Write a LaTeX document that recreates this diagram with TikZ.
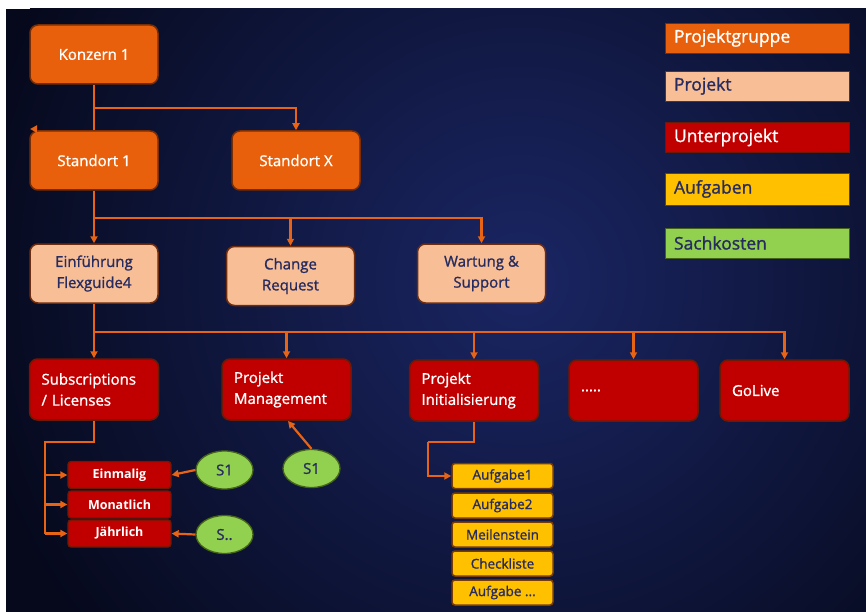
\documentclass[tikz,border=0pt]{standalone}
\usepackage{fontspec}
\setmainfont{Open Sans}
\newfontfamily\semib{Open Sans}[FakeBold=1.2]
\usetikzlibrary{arrows.meta,shapes.geometric}
\definecolor{bgdark}{RGB}{6,9,28}
\definecolor{bgmid}{RGB}{26,38,100}
\definecolor{grpfill}{RGB}{233,96,12}
\definecolor{grpline}{RGB}{120,45,5}
\definecolor{prjfill}{RGB}{248,190,150}
\definecolor{prjline}{RGB}{110,45,15}
\definecolor{subfill}{RGB}{192,0,0}
\definecolor{subline}{RGB}{110,25,5}
\definecolor{taskfill}{RGB}{255,192,0}
\definecolor{taskline}{RGB}{120,60,5}
\definecolor{costfill}{RGB}{146,208,80}
\definecolor{costline}{RGB}{70,100,25}
\definecolor{navytext}{RGB}{38,44,96}
\definecolor{conncol}{RGB}{232,100,20}
\tikzset{
  box/.style={rounded corners=8pt, line width=1.5pt, minimum width=128pt, minimum height=59pt, inner sep=0pt, font=\semib\fontsize{15}{21}\selectfont},
  grp/.style={box, fill=grpfill, draw=grpline, text=white},
  prj/.style={box, fill=prjfill, draw=prjline, text=navytext, align=center},
  sub/.style={box, fill=subfill, draw=subline, text=white, minimum width=129pt, minimum height=61pt, text width=105pt, align=left},
  small/.style={rounded corners=3pt, line width=1.3pt, fill=subfill, draw=subline, text=white, minimum width=103pt, minimum height=27pt, inner sep=0pt, font=\fontsize{12.5}{14}\selectfont\bfseries},
  task/.style={rounded corners=3pt, line width=1.5pt, fill=taskfill, draw=taskline, text=navytext, minimum width=101pt, minimum height=25pt, inner sep=0pt, font=\semib\fontsize{13.5}{15}\selectfont},
  cost/.style={ellipse, line width=1.3pt, fill=costfill, draw=costline, text=navytext, minimum width=57pt, minimum height=38pt, inner sep=0pt, font=\semib\fontsize{15}{17}\selectfont},
  legend/.style={line width=0.6pt, minimum width=184pt, minimum height=30pt, inner sep=0pt, text width=166pt, align=left, font=\semib\fontsize{17.5}{20}\selectfont},
  conn/.style={draw=conncol, line width=2.2pt},
  arr/.style={conn, -{Triangle[length=7pt,width=7pt]}},
}
\begin{document}
\begin{tikzpicture}[x=1pt,y=-1pt]
\useasboundingbox (0,0) rectangle (866,612);
\fill[white] (0,0) rectangle (866,612);
\fill[bgdark] (6,9) rectangle (866,612);
\begin{scope}
\clip (6,9) rectangle (866,612);
\shade[inner color=bgmid, outer color=bgdark] (520,280) circle (560);
\end{scope}

% legend
\node[legend, fill=grpfill, draw=grpline, text=white] (lg1) at (757,38) {Projektgruppe};
\node[legend, fill=prjfill, draw=prjline, text=navytext] (lg2) at (757,86) {Projekt};
\node[legend, fill=subfill, draw=subline, text=white] (lg3) at (757,137.5) {Unterprojekt};
\node[legend, fill=taskfill, draw=taskline, text=navytext, minimum height=32pt] (lg4) at (757,189) {Aufgaben};
\node[legend, fill=costfill, draw=costline, text=navytext] (lg5) at (757,243) {Sachkosten};

% level 1
\node[grp] (k) at (94,54.5) {Konzern 1};
\node[grp] (st1) at (94,160.5) {Standort 1};
\node[grp] (stx) at (296,160.5) {Standort X};

% level 2
\node[prj] (ein) at (94,273.5) {Einführung\\Flexguide4};
\node[prj] (cr) at (290.5,276) {Change\\Request};
\node[prj] (ws) at (481.5,273.5) {Wartung \&\\Support};

% level 3
\node[sub] (subs) at (94,389.5) {Subscriptions\\/ Licenses};
\node[sub] (pm) at (286.5,389.5) {Projekt\\Management};
\node[sub] (pi) at (474,390.5) {Projekt\\Initialisierung};
\node[sub] (dots) at (633.5,390.5) {.....};
\node[sub] (go) at (784.5,390.5) {GoLive};

% subscriptions children
\node[small] (e1) at (119.5,475) {Einmalig};
\node[small] (e2) at (119.5,504.5) {Monatlich};
\node[small] (e3) at (119.5,533.5) {Jährlich};
\node[cost] (s1a) at (224.5,470) {S1};
\node[cost] (s2) at (224.5,534.5) {S..};
\node[cost] (s1b) at (311.5,468.5) {S1};

% tasks
\node[task] (t1) at (502.5,476) {Aufgabe1};
\node[task] (t2) at (502.5,505.5) {Aufgabe2};
\node[task] (t3) at (502.5,534.5) {Meilenstein};
\node[task] (t4) at (502.5,563.5) {Checkliste};
\node[task] (t5) at (502.5,592.5) {Aufgabe ...};

% connectors level 1
\coordinate (j1) at (94,108);
\draw[conn] (k.south) -- (st1.north);
\draw[arr] (j1) -| (stx.north);
\coordinate (lonetip) at (30,129);
\draw[arr] (35,129) -- (lonetip);

% connectors level 2
\coordinate (j2) at (94,218);
\draw[conn] (st1.south) -- (j2);
\draw[arr] (j2) -- (ein.north);
\draw[arr] (j2) -| (cr.north);
\draw[arr] (j2) -| (ws.north);

% connectors level 3
\coordinate (j3) at (94,332);
\draw[conn] (ein.south) -- (j3);
\draw[arr] (j3) -- (subs.north);
\draw[arr] (j3) -| (pm.north);
\draw[arr] (j3) -| (pi.north);
\draw[arr] (j3) -| (dots.north);
\draw[arr] (j3) -| (go.north);

% subscriptions children connectors
\coordinate (j4) at (94,442);
\coordinate (j5) at (45,442);
\draw[conn] (subs.south) -- (j4) -- (j5) -- (45,533.5);
\draw[arr] (45,475) -- (e1.west);
\draw[arr] (45,504.5) -- (e2.west);
\draw[arr] (45,533.5) -- (e3.west);
\draw[arr] (s1a.west) -- (e1.east);
\draw[arr] (s2.west) -- (e3.east);
\draw[arr] (s1b.north) -- (288,421);

% task connector
\coordinate (j6) at (474,442);
\coordinate (j7) at (428,442);
\draw[conn] (pi.south) -- (j6) -- (j7);
\draw[arr] (j7) |- (t1.west);
\end{tikzpicture}
\end{document}
